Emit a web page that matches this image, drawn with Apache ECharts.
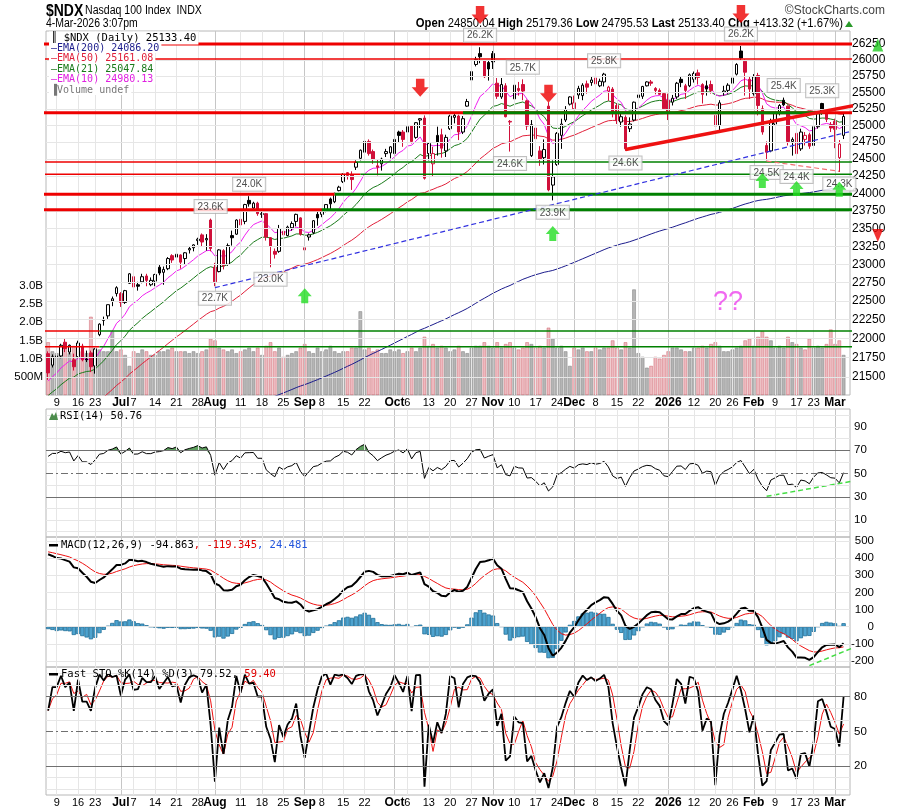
<!DOCTYPE html>
<html>
<head>
<meta charset="utf-8">
<title>$NDX Daily</title>
<script src="https://cdn.jsdelivr.net/npm/echarts@6.0.0/dist/echarts.min.js"></script>
<style>
  html, body { margin: 0; padding: 0; background: #fff; }
  #chart { width: 900px; height: 811px; }
</style>
</head>
<body>
<div id="chart"></div>
<script type="text/javascript">
// trading days on the chart
var months = ['2025-06','2025-07','2025-08','2025-09','2025-10','2025-11','2025-12','2026-01','2026-02','2026-03'];
var monthDays = [
  [5,6,9,10,11,12,13,16,17,18,20,23,24,25,26,27,30],
  [1,2,3,7,8,9,10,11,14,15,16,17,18,21,22,23,24,25,28,29,30,31],
  [1,4,5,6,7,8,11,12,13,14,15,18,19,20,21,22,25,26,27,28,29],
  [2,3,4,5,8,9,10,11,12,15,16,17,18,19,22,23,24,25,26,29,30],
  [1,2,3,6,7,8,9,10,13,14,15,16,17,20,21,22,23,24,27,28,29,30,31],
  [3,4,5,6,7,10,11,12,13,14,17,18,19,20,21,24,25,26,28],
  [1,2,3,4,5,8,9,10,11,12,15,16,17,18,19,22,23,24,26,29,30,31],
  [2,5,6,7,8,9,12,13,14,15,16,20,21,22,23,26,27,28,29,30],
  [2,3,4,5,6,9,10,11,12,13,17,18,19,20,23,24,25,26,27],
  [2,3,4]
];
var dates = [];
months.forEach(function (m, k) {
  monthDays[k].forEach(function (d) { dates.push(m + '-' + (d < 10 ? '0' + d : d)); });
});

// date axis labels (bold = month)
var xTicks = [
  ['2025-06-09','9'],['2025-06-16','16'],['2025-06-23','23'],['2025-07-01','Jul',1],['2025-07-07','7'],
  ['2025-07-14','14'],['2025-07-21','21'],['2025-07-28','28'],['2025-08-01','Aug',1],['2025-08-11','11'],
  ['2025-08-18','18'],['2025-08-25','25'],['2025-09-02','Sep',1],['2025-09-08','8'],['2025-09-15','15'],
  ['2025-09-22','22'],['2025-10-01','Oct',1],['2025-10-06','6'],['2025-10-13','13'],['2025-10-20','20'],
  ['2025-10-27','27'],['2025-11-03','Nov',1],['2025-11-10','10'],['2025-11-17','17'],['2025-11-24','24'],
  ['2025-12-01','Dec',1],['2025-12-08','8'],['2025-12-15','15'],['2025-12-22','22'],['2026-01-02','2026',1],
  ['2026-01-12','12'],['2026-01-20','20'],['2026-01-26','26'],['2026-02-02','Feb',1],['2026-02-09','9'],
  ['2026-02-17','17'],['2026-02-23','23'],['2026-03-02','Mar',1]
];

// OHLC, one row per month
var opens = [
  21800,21650,21770,21770,21950,21820,21720,21760,21900,21730,21810,21640,22050,22250,22300,22500,22600,
  22600,22480,22740,22830,22720,22760,22840,22720,22770,22960,22890,22940,23120,23100,23130,23080,23200,23230,23330,23410,23340,23620,
  22960,22900,23190,23000,23400,23420,23630,23600,23900,23790,23860,23700,23710,23370,23180,23180,23460,23400,23510,23600,23650,
  23200,23380,23440,23700,23700,23770,23920,23880,24040,24170,24300,24270,24380,24510,24600,24760,24610,24400,24430,24580,24590,
  24580,24900,24900,24900,24990,24820,25080,25110,24580,24430,24850,24860,24620,24950,25120,25140,24900,25290,25690,25930,26100,25990,25960,
  26100,25640,25430,25600,25050,25400,25560,25620,25370,24550,24960,24620,24520,25290,24120,24420,24850,25080,25320,
  25250,25460,25450,25630,25650,25720,25600,25660,25520,25550,25300,25050,25120,24950,25080,25420,25440,25600,25660,25560,25530,25480,
  25380,25350,25430,25700,25600,25600,25700,25800,25620,25600,25620,25150,25000,25500,25530,25640,25780,26140,25980,25700,
  25480,25760,25250,24700,24620,25020,25180,25380,25290,24760,24880,24650,24790,24860,24700,24980,25330,25200,25010,
  25060,24520,24850.04
];
var highs = [
  21830,21790,21820,21930,22000,21920,21800,21970,21930,21840,21840,21870,22200,22290,22450,22560,22700,
  22620,22650,22880,22860,22760,22870,22870,22820,22870,22990,22970,23100,23140,23220,23140,23170,23240,23280,23370,23430,23420,23640,
  23020,23210,23210,23290,23470,23630,23720,23850,23960,23880,23880,23740,23720,23380,23220,23550,23520,23540,23600,23710,23660,
  23240,23430,23620,23760,23780,23840,23940,24010,24110,24290,24310,24320,24480,24640,24770,24790,24640,24500,24520,24650,24690,
  24800,24920,24930,25000,25000,25050,25110,25150,24740,24680,24980,24950,24860,25160,25190,25160,25140,25400,25850,26050,26200,26000,25990,
  26140,25720,25720,25640,25080,25620,25660,25700,25390,25080,25100,24690,24790,25350,24480,24900,25100,25290,25440,
  25450,25600,25640,25680,25750,25750,25710,25800,25600,25580,25330,25200,25150,25120,25360,25480,25600,25670,25690,25580,25560,25490,
  25480,25460,25660,25750,25630,25790,25820,25850,25640,25680,25680,25190,25380,25600,25640,25760,25950,26220,26010,25750,
  25780,25800,25300,24760,25100,25200,25320,25420,25300,24820,24900,24950,24900,24890,25000,25200,25340,25240,25050,
  25100,24780,25179.36
];
var lows = [
  21460,21620,21700,21740,21820,21790,21580,21740,21700,21690,21560,21540,22030,22170,22260,22430,22560,
  22420,22460,22730,22600,22640,22740,22700,22700,22700,22850,22720,22920,23020,23090,22940,23000,23150,23180,23270,23250,23190,23180,
  22700,22890,22930,22980,23260,23410,23520,23560,23810,23750,23680,23650,23330,22960,23080,23160,23400,23390,23470,23530,23400,
  23000,23330,23420,23540,23660,23730,23770,23860,24030,24150,24200,24050,24340,24480,24590,24550,24430,24260,24330,24530,24510,
  24560,24750,24680,24870,24730,24800,24960,24200,24480,24250,24550,24520,24530,24930,25030,24780,24870,25280,25680,25900,25950,25720,25680,
  25860,25400,25400,25120,24610,25380,25450,25380,24930,24530,24720,24400,24420,24030,23900,24400,24650,25050,25300,
  25230,25400,25380,25480,25600,25560,25580,25590,25370,25120,25020,24980,24620,24900,25060,25380,25400,25590,25600,25470,25460,25240,
  25080,25300,25400,25580,25400,25580,25650,25620,25330,25450,25480,24960,24900,25450,25480,25600,25760,26000,25450,25400,
  25450,25150,24860,24480,24600,24990,25150,25290,24700,24550,24420,24620,24700,24650,24650,24950,25160,25050,24900,
  24660,24310,24795.53
];
var closes = [
  21550,21760,21760,21910,21865,21910,21630,21940,21720,21720,21630,21860,22190,22240,22450,22530,22680,
  22480,22640,22870,22690,22700,22830,22780,22780,22860,22880,22930,23080,23060,23140,23030,23160,23220,23270,23350,23310,23360,23220,
  22760,23200,22980,23260,23370,23620,23550,23840,23850,23860,23710,23710,23380,23250,23140,23500,23410,23520,23570,23700,23420,
  23230,23410,23610,23650,23760,23840,23850,24000,24090,24280,24260,24200,24450,24630,24760,24580,24500,24380,24500,24610,24680,
  24790,24850,24790,24980,24760,25040,25100,24220,24730,24580,24750,24660,24820,25140,25150,24900,25100,25360,25820,26010,26050,25740,25860,
  25970,25440,25620,25130,25060,25610,25530,25520,24990,25010,24800,24500,24640,24050,24240,24880,25020,25240,25430,
  25340,25560,25610,25580,25690,25630,25670,25780,25580,25200,25070,25130,24650,25020,25350,25460,25590,25660,25640,25530,25470,25250,
  25210,25410,25640,25650,25530,25770,25790,25730,25470,25550,25530,24990,25340,25520,25610,25720,25930,26030,25810,25550,
  25740,25300,24900,24600,25070,25180,25300,25310,24760,24790,24580,24900,24850,24690,24980,25180,25200,25090,24960,
  24940,24720,25133.40
];
// volume, billions of shares
var volumes = [
  1.45,1.2,1.15,1.25,1.3,1.15,1.35,1.2,1.2,1.15,2.15,1.3,1.25,1.2,1.2,1.75,1.2,
  1.25,1.1,0.8,1.2,1.15,1.25,1.2,1.1,1.1,1.2,1.2,1.25,1.3,1.2,1.2,1.2,1.15,1.2,1.15,1.2,1.25,1.55,
  1.5,1.3,1.25,1.2,1.25,1.15,1.2,1.25,1.3,1.2,1.3,1.1,1.35,1.45,1.2,1.3,1.05,1.1,1.15,1.2,1.3,
  1.4,1.2,1.15,1.3,1.2,1.25,1.35,1.2,1.15,1.2,1.2,1.3,1.3,2.3,1.25,1.3,1.2,1.25,1.15,1.15,1.25,
  1.2,1.25,1.15,1.2,1.3,1.2,1.3,1.6,1.35,1.4,1.3,1.35,1.3,1.2,1.25,1.35,1.2,1.15,1.3,1.35,1.35,1.45,1.35,
  1.3,1.45,1.3,1.4,1.45,1.3,1.25,1.3,1.45,1.4,1.3,1.35,1.3,1.85,1.55,1.3,1.35,1.2,0.8,
  1.3,1.25,1.3,1.2,1.2,1.3,1.25,1.3,1.3,1.5,1.3,1.25,1.45,1.3,2.9,1.15,1.05,0.75,0.8,1.05,1.0,1.1,
  1.2,1.3,1.3,1.25,1.2,1.2,1.3,1.3,1.35,1.3,1.4,1.45,1.35,1.2,1.2,1.25,1.3,1.35,1.5,1.55,
  1.35,1.6,1.75,1.6,1.5,1.3,1.35,1.3,1.6,1.45,1.4,1.3,1.25,1.55,1.3,1.35,1.3,1.4,1.8,
  1.4,1.5,1.1
];
var closeBefore = 21770;          // close of the session before the first bar
// indicator state on the session before the first bar
var emaSeeds = { e10: 21420, e21: 21230, e50: 20780, e200: 20080, e12: 21480, e26: 21030, sig: 440 };
var rsiSeed = [145, 62];          // avg gain, avg loss
var stoSeed = [21880, 20850];     // prior 14-day high, low

// right axis ticks
var priceTicks = [21500,21750,22000,22250,22500,22750,23000,23250,23500,23750,24000,24250,24500,24750,25000,25250,25500,25750,26000,26250];

// drawn annotations
var levels = [26250, 26015, 25190, 24458, 24276, 23989, 23764, 22100, 21892];
var redTo = [188, 188, 188, 72, 73, 67, 64, 12, 12];
var greenFrom = [null, null, 97, 72, 73, 67, 64, 12, 12];
var greenTo = [null, null, 181, 188, 188, 188, 188, 188, 188];
var heavy = [1, 0, 1, 0, 0, 1, 1, 0, 0];
var downArrows = [[101, 26711], [87, 25570], [117, 25480], [162, 26727]];
var upArrows = [[60, 22570], [118, 23430], [167, 24186], [175, 24069], [185, 24060]];
var highMarks = [38, 47, 101, 111, 130, 162, 172, 181];
var lowMarks = [39, 52, 108, 118, 135, 168, 175, 185];
var blueTrend = [[39, 22680], [199, 25088]];
var redTrend = [[135, 24640], [199, 25430]];
var lowsTrend = [[168, 24470], [185, 24320]];
var rsiTrend = [[168, 30.4], [188, 43.4]];
var macdTrend = [[178, -227], [189, -115]];

// ---- indicators ----
function ema(src, n, seed) {
  var k = 2 / (n + 1), e = seed, out = [];
  for (var i = 0; i < src.length; i++) { e = e + k * (src[i] - e); out.push(e); }
  return out;
}
var n = dates.length;
var ema10 = ema(closes, 10, emaSeeds.e10), ema21 = ema(closes, 21, emaSeeds.e21);
var ema50 = ema(closes, 50, emaSeeds.e50), ema200 = ema(closes, 200, emaSeeds.e200);
var e12 = ema(closes, 12, emaSeeds.e12), e26 = ema(closes, 26, emaSeeds.e26);
var macd = e12.map(function (v, i) { return v - e26[i]; });
var signal = ema(macd, 9, emaSeeds.sig);
var hist = macd.map(function (v, i) { return v - signal[i]; });

var rsi = [], ag = rsiSeed[0], al = rsiSeed[1];
for (var i = 0; i < n; i++) {
  var ch = closes[i] - (i ? closes[i - 1] : closeBefore);
  ag = (ag * 13 + Math.max(ch, 0)) / 14;
  al = (al * 13 + Math.max(-ch, 0)) / 14;
  rsi.push(100 - 100 / (1 + ag / al));
}
var stoK = [], stoD = [];
for (var i = 0; i < n; i++) {
  var hh = -Infinity, ll = Infinity;
  for (var j = Math.max(0, i - 13); j <= i; j++) { hh = Math.max(hh, highs[j]); ll = Math.min(ll, lows[j]); }
  if (i < 13) { hh = Math.max(hh, stoSeed[0]); ll = Math.min(ll, stoSeed[1]); }
  stoK.push((closes[i] - ll) / (hh - ll) * 100);
  var s = 0, c = 0;
  for (var j = Math.max(0, i - 2); j <= i; j++) { s += stoK[j]; c++; }
  stoD.push(s / c);
}

// ---- styling helpers ----
var RED = '#d0103a';
var candleData = [], volData = [];
for (var i = 0; i < n; i++) {
  var prev = i ? closes[i - 1] : closeBefore;
  var col = closes[i] >= prev ? '#000' : RED;
  var fill = closes[i] > opens[i] ? '#fff' : col;
  candleData.push({ value: [opens[i], closes[i], lows[i], highs[i]],
    itemStyle: { color: fill, color0: fill, borderColor: col, borderColor0: col } });
  volData.push({ value: volumes[i] * 1e9,
    itemStyle: closes[i] >= prev ? { color: 'rgba(150,150,150,0.7)', borderColor: '#8a8a8a' }
                                 : { color: 'rgba(225,140,150,0.6)', borderColor: 'rgba(200,80,90,0.7)' } });
}
var cats = dates.concat(['']);
var tickMap = {};
xTicks.forEach(function (t) { tickMap[t[0]] = { text: t[1], bold: !!t[2] }; });
var vLines = xTicks.map(function (t) {
  return { xAxis: t[0], lineStyle: { color: t[2] ? '#c6c6c6' : '#e6e6e6', width: 1, type: 'solid' } };
});
var FONT = 'Liberation Sans, Arial, sans-serif';
var MONO = 'DejaVu Sans Mono, monospace';

function hLine(v, color, dash) {
  return { yAxis: v, lineStyle: { color: color, width: 1, type: dash || 'solid' } };
}
function gridHelper(idx, items) {
  return { type: 'line', xAxisIndex: idx, yAxisIndex: [0, 2, 3, 4][idx], data: [], z: 0, silent: true,
    markLine: { silent: true, animation: false, symbol: ['none', 'none'], label: { show: false },
      lineStyle: { color: '#e6e6e6', width: 1, type: 'solid' }, data: vLines.concat(items) } };
}
var priceGrid = priceTicks.map(function (v) {
  return { yAxis: v, lineStyle: { color: '#e6e6e6', width: 1, type: 'solid' },
    label: { show: true, position: 'end', distance: 2, formatter: String(v), color: '#000', fontSize: 12, fontFamily: FONT } };
});
var rsiGrid = [], stoGrid = [], macdGrid = [];
for (var v = 0; v <= 100; v += 10) {
  rsiGrid.push(v === 70 || v === 30 ? hLine(v, '#707070') : v === 50 ? hLine(v, '#707070', [7, 3, 2, 3]) : hLine(v, '#e6e6e6'));
  stoGrid.push(v === 80 || v === 20 ? hLine(v, '#707070') : v === 50 ? hLine(v, '#707070', [7, 3, 2, 3]) : hLine(v, '#e6e6e6'));
}
for (var v = -200; v <= 500; v += 100) macdGrid.push(hLine(v, '#e6e6e6'));

function seg(pts, color, width, type, z, clip) {
  return { type: 'line', xAxisIndex: 0, yAxisIndex: 0, data: pts, symbol: 'none', silent: true, z: z || 6,
    clip: clip !== false, lineStyle: { color: color, width: width, type: type || 'solid' } };
}
var annot = [];
levels.forEach(function (lv, k) {
  annot.push(seg([[-1, lv], [redTo[k], lv]], '#ee0000', heavy[k] ? 3 : 1.5, 'solid', 5));
});
levels.forEach(function (lv, k) {
  if (greenFrom[k] !== null) annot.push(seg([[greenFrom[k], lv], [greenTo[k], lv]], '#008000', heavy[k] ? 3 : 1.5, 'solid', 5));
});
annot.push(seg(blueTrend, '#3030e0', 1.2, [5, 3], 6, false));
annot.push(seg(redTrend, '#ee1111', 3.5, 'solid', 6, false));
annot.push(seg(lowsTrend, '#f07070', 1.2, [5, 3], 6, false));
// dotted target arrows on the right edge
annot.push(seg([[194, 26124], [194, 24794]], '#22cc22', 3, [4, 4], 6, false));
annot.push(seg([[194, 24501], [194, 23616]], '#ee0000', 3, [4, 4], 6, false));

function kLabel(v) { return (v / 1000).toFixed(1) + 'K'; }
var boxLabel = { show: true, fontSize: 10, fontFamily: FONT, color: '#222', backgroundColor: '#fff',
  borderColor: '#b0b0b0', borderWidth: 1, padding: [2, 3, 1, 3], distance: 5 };

var option = {
  animation: false,
  backgroundColor: '#fff',
  grid: [
    { left: 46, right: 50, top: 31, height: 364, show: true, borderColor: '#b8b8b8', backgroundColor: '#fff' },
    { left: 46, right: 50, top: 409, height: 128, show: true, borderColor: '#b8b8b8' },
    { left: 46, right: 50, top: 537, height: 130, show: true, borderColor: '#b8b8b8' },
    { left: 46, right: 50, top: 667, height: 128, show: true, borderColor: '#b8b8b8' }
  ],
  xAxis: [0, 1, 2, 3].map(function (k) {
    return {
      type: 'category', gridIndex: k, data: cats, boundaryGap: true,
      axisLine: { show: false }, axisTick: { show: false }, splitLine: { show: false },
      axisLabel: (k === 0 || k === 3) ? {
        interval: function (i, v) { return !!tickMap[v]; },
        formatter: function (v) { var t = tickMap[v]; if (!t) return ''; return t.bold ? '{b|' + t.text + '}' : t.text; },
        rich: { b: { fontWeight: 'bold', fontSize: 12, fontFamily: FONT, color: '#000' } },
        fontSize: 11, fontFamily: FONT, color: '#000', margin: 2
      } : { show: false }
    };
  }),
  yAxis: [
    { type: 'log', gridIndex: 0, position: 'right', min: 21266, max: 26456,
      axisLine: { show: false }, axisTick: { show: false }, axisLabel: { show: false }, splitLine: { show: false } },
    { type: 'value', gridIndex: 0, position: 'left', min: 0, max: 1e10,
      axisLine: { show: false }, axisTick: { show: false }, splitLine: { show: false },
      axisLabel: { customValues: [5e8, 1e9, 1.5e9, 2e9, 2.5e9, 3e9], margin: 3, fontSize: 11.5, fontFamily: FONT, color: '#000',
        formatter: function (v) { return v < 1e9 ? (v / 1e6) + 'M' : (v / 1e9).toFixed(1) + 'B'; } } },
    { type: 'value', gridIndex: 1, position: 'right', min: -4.6, max: 105.5,
      axisLine: { show: false }, axisTick: { show: false }, splitLine: { show: false },
      axisLabel: { customValues: [10, 30, 50, 70, 90], margin: 4, fontSize: 11.5, fontFamily: FONT, color: '#000' } },
    { type: 'value', gridIndex: 2, position: 'right', min: -235, max: 523,
      axisLine: { show: false }, axisTick: { show: false }, splitLine: { show: false },
      axisLabel: { customValues: [-200, -100, 0, 100, 200, 300, 400, 500], align: 'right', margin: 24, fontSize: 11.5, fontFamily: FONT, color: '#000' } },
    { type: 'value', gridIndex: 3, position: 'right', min: -5.1, max: 105.7,
      axisLine: { show: false }, axisTick: { show: false }, splitLine: { show: false },
      axisLabel: { customValues: [20, 50, 80], margin: 4, fontSize: 11.5, fontFamily: FONT, color: '#000' } }
  ],
  graphic: [
    { type: 'text', x: 46, y: 11, scaleX: 0.82, style: { text: '$NDX', font: 'bold 17px ' + FONT, fill: '#000', verticalAlign: 'middle' } },
    { type: 'text', x: 85, y: 11, scaleX: 0.88, style: { text: 'Nasdaq 100 Index  INDX', font: '12px ' + FONT, fill: '#000', verticalAlign: 'middle' } },
    { type: 'text', x: 46, y: 24, scaleX: 0.87, style: { text: '4-Mar-2026 3:07pm', font: '12px ' + FONT, fill: '#000', verticalAlign: 'middle' } },
    { type: 'text', x: 885, y: 11, style: { text: '\u00A9StockCharts.com', font: '12px ' + FONT, fill: '#444', align: 'right', verticalAlign: 'middle' } },
    { type: 'text', x: 843, y: 24, scaleX: 0.9, style: {
      text: '{b|Open} 24850.04 {b|High} 25179.36 {b|Low} 24795.53 {b|Last} 25133.40 {b|Chg} +413.32 (+1.67%)',
      font: '12.5px ' + FONT, fill: '#000', align: 'right', verticalAlign: 'middle',
      rich: { b: { fontWeight: 'bold', fontSize: 12.5, fontFamily: FONT } } } },
    { type: 'polygon', shape: { points: [[845, 27], [853, 27], [849, 21]] }, style: { fill: '#2a9a2a' } },
    // price legend
    { type: 'text', x: 49, y: 38, z: 50, style: { text: '\u2551 $NDX (Daily) 25133.40', font: '10.5px ' + MONO, fill: '#000',
      backgroundColor: '#fff', padding: [1, 2], verticalAlign: 'middle' } },
    { type: 'text', x: 49, y: 48, z: 50, style: { text: '\u2014EMA(200) 24086.20', font: '10px ' + MONO, fill: '#1c1c8c', backgroundColor: '#fff', padding: [0, 2], verticalAlign: 'middle' } },
    { type: 'text', x: 49, y: 58.5, z: 50, style: { text: '\u2014EMA(50) 25161.08', font: '10px ' + MONO, fill: '#e0203a', backgroundColor: '#fff', padding: [0, 2], verticalAlign: 'middle' } },
    { type: 'text', x: 49, y: 69, z: 50, style: { text: '\u2014EMA(21) 25047.84', font: '10px ' + MONO, fill: '#1a7a1a', backgroundColor: '#fff', padding: [0, 2], verticalAlign: 'middle' } },
    { type: 'text', x: 49, y: 79.5, z: 50, style: { text: '\u2014EMA(10) 24980.13', font: '10px ' + MONO, fill: '#e020e0', backgroundColor: '#fff', padding: [0, 2], verticalAlign: 'middle' } },
    { type: 'text', x: 49, y: 90, z: 50, style: { text: '\u2590Volume undef', font: '10px ' + MONO, fill: '#777', backgroundColor: '#fff', padding: [0, 2], verticalAlign: 'middle' } },
    // indicator legends
    { type: 'polygon', z: 50, shape: { points: [[49, 420], [52, 413], [54, 416], [56, 412], [58, 420]] }, style: { fill: '#4c8c4c' } },
    { type: 'text', x: 60, y: 416, z: 50, style: { text: 'RSI(14) 50.76', font: '10.5px ' + MONO, fill: '#000', verticalAlign: 'middle' } },
    { type: 'rect', z: 50, shape: { x: 49, y: 544, width: 9, height: 2.5 }, style: { fill: '#000' } },
    { type: 'text', x: 61, y: 545, z: 50, style: { text: 'MACD(12,26,9) -94.863{r|, -119.345}{bl|, 24.481}', font: '10.5px ' + MONO, fill: '#000', verticalAlign: 'middle',
      rich: { r: { fill: '#e00000', font: '10.5px ' + MONO }, bl: { fill: '#2255dd', font: '10.5px ' + MONO } } } },
    { type: 'rect', z: 50, shape: { x: 49, y: 673, width: 9, height: 2.5 }, style: { fill: '#000' } },
    { type: 'text', x: 61, y: 674, z: 50, style: { text: 'Fast STO %K(14) %D(3) 79.52,{r| 59.40}', font: '10.5px ' + MONO, fill: '#000', verticalAlign: 'middle',
      rich: { r: { fill: '#e00000', font: '10.5px ' + MONO } } } }
  ],
  series: [
    gridHelper(0, priceGrid),
    gridHelper(1, rsiGrid),
    gridHelper(2, macdGrid),
    gridHelper(3, stoGrid),
    { type: 'bar', name: 'Volume', xAxisIndex: 0, yAxisIndex: 1, data: volData, barWidth: 3.6, z: 1,
      itemStyle: { borderWidth: 0.6 } },
    { type: 'line', name: 'EMA200', xAxisIndex: 0, yAxisIndex: 0, data: ema200, symbol: 'none', z: 3, lineStyle: { color: '#1c1c8c', width: 1 } },
    { type: 'line', name: 'EMA50', xAxisIndex: 0, yAxisIndex: 0, data: ema50, symbol: 'none', z: 3, lineStyle: { color: '#e0203a', width: 1 } },
    { type: 'line', name: 'EMA21', xAxisIndex: 0, yAxisIndex: 0, data: ema21, symbol: 'none', z: 3, lineStyle: { color: '#1a7a1a', width: 1 } },
    { type: 'line', name: 'EMA10', xAxisIndex: 0, yAxisIndex: 0, data: ema10, symbol: 'none', z: 3, lineStyle: { color: '#f020f0', width: 1 } },
    { type: 'candlestick', name: '$NDX', xAxisIndex: 0, yAxisIndex: 0, data: candleData, barWidth: 3, z: 4,
      itemStyle: { borderWidth: 1 } }
  ].concat(annot).concat([
    { type: 'scatter', xAxisIndex: 0, yAxisIndex: 0, clip: false, z: 10, silent: true,
      data: downArrows, symbol: 'path://M4,0L12,0L12,8L16,8L8,17L0,8L4,8Z', symbolSize: [17, 18], itemStyle: { color: '#ee0000' } },
    { type: 'scatter', xAxisIndex: 0, yAxisIndex: 0, clip: false, z: 10, silent: true,
      data: upArrows, symbol: 'path://M8,0L16,9L12,9L12,17L4,17L4,9L0,9Z', symbolSize: [14, 15], itemStyle: { color: '#22dd22' } },
    { type: 'scatter', xAxisIndex: 0, yAxisIndex: 0, clip: false, z: 10, silent: true,
      data: [[194, 26234]], symbol: 'triangle', symbolSize: [11, 13], itemStyle: { color: '#22cc22' } },
    { type: 'scatter', xAxisIndex: 0, yAxisIndex: 0, clip: false, z: 10, silent: true,
      data: [[194, 23400]], symbol: 'path://M0,0L10,0L5,12Z', symbolSize: [11, 13], itemStyle: { color: '#ee0000' } },
    { type: 'scatter', xAxisIndex: 0, yAxisIndex: 0, clip: false, z: 9, silent: true, symbolSize: 1,
      itemStyle: { color: 'rgba(0,0,0,0)' },
      data: highMarks.map(function (i) { return [i, highs[i]]; }),
      label: Object.assign({ position: 'top', formatter: function (p) { return kLabel(p.value[1]); } }, boxLabel) },
    { type: 'scatter', xAxisIndex: 0, yAxisIndex: 0, clip: false, z: 9, silent: true, symbolSize: 1,
      itemStyle: { color: 'rgba(0,0,0,0)' },
      data: lowMarks.map(function (i) { return [i, lows[i]]; }),
      label: Object.assign({ position: 'bottom', formatter: function (p) { return kLabel(p.value[1]); } }, boxLabel) },
    { type: 'scatter', xAxisIndex: 0, yAxisIndex: 0, clip: false, z: 9, silent: true, symbolSize: 1,
      itemStyle: { color: 'rgba(0,0,0,0)' }, data: [[159, 22483]],
      label: { show: true, position: 'inside', formatter: '??', fontSize: 27, fontFamily: FONT, color: '#ee44ee' } },
    // RSI
    { type: 'line', xAxisIndex: 1, yAxisIndex: 2, stack: 'ob', data: rsi.map(function (v) { return Math.min(v, 70); }),
      symbol: 'none', lineStyle: { width: 0 }, z: 2 },
    { type: 'line', xAxisIndex: 1, yAxisIndex: 2, stack: 'ob', data: rsi.map(function (v) { return Math.max(v - 70, 0); }),
      symbol: 'none', lineStyle: { width: 0 }, areaStyle: { color: '#5e9e5e', opacity: 1 }, z: 2 },
    { type: 'line', name: 'RSI', xAxisIndex: 1, yAxisIndex: 2, data: rsi, symbol: 'none', z: 3, lineStyle: { color: '#000', width: 1 } },
    { type: 'line', xAxisIndex: 1, yAxisIndex: 2, data: rsiTrend, symbol: 'none', clip: false, z: 4, lineStyle: { color: '#44dd44', width: 1.5, type: [5, 3] } },
    // MACD
    { type: 'bar', xAxisIndex: 2, yAxisIndex: 3, data: hist, barWidth: 4.3, z: 2,
      itemStyle: { color: '#4ea3cf', borderColor: '#1f6f98', borderWidth: 0.8 } },
    { type: 'line', name: 'MACD', xAxisIndex: 2, yAxisIndex: 3, data: macd, symbol: 'none', z: 4, lineStyle: { color: '#000', width: 2 } },
    { type: 'line', name: 'Signal', xAxisIndex: 2, yAxisIndex: 3, data: signal, symbol: 'none', z: 3, lineStyle: { color: '#ee1111', width: 1 } },
    { type: 'line', xAxisIndex: 2, yAxisIndex: 3, data: macdTrend, symbol: 'none', clip: false, z: 5, lineStyle: { color: '#44dd44', width: 1.5, type: [5, 3] } },
    // Fast stochastic
    { type: 'line', name: '%K', xAxisIndex: 3, yAxisIndex: 4, data: stoK, symbol: 'none', z: 4, lineStyle: { color: '#000', width: 1.8 } },
    { type: 'line', name: '%D', xAxisIndex: 3, yAxisIndex: 4, data: stoD, symbol: 'none', z: 3, lineStyle: { color: '#ee1111', width: 1 } }
  ])
};

var chart = echarts.init(document.getElementById('chart'));
chart.setOption(option);
</script>
</body>
</html>
